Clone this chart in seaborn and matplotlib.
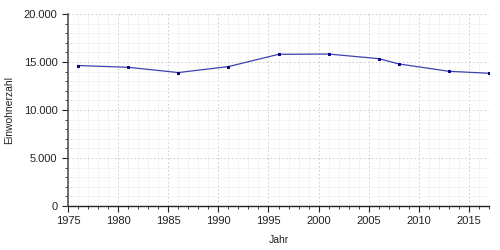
import matplotlib
matplotlib.use("Agg")
import matplotlib.pyplot as plt
import matplotlib.ticker as mticker
import seaborn as sns
import pandas as pd

years = [1976, 1981, 1986, 1991, 1996, 2001, 2006, 2008, 2013, 2017]
population = [14630, 14450, 13900, 14520, 15800, 15830, 15350, 14800, 14030, 13830]

df = pd.DataFrame({"Jahr": years, "Einwohnerzahl": population})

sns.set_style("white")
plt.rcParams['font.family'] = ['Liberation Sans', 'DejaVu Sans']

fig = plt.figure(figsize=(5, 2.5), dpi=100)
ax = fig.add_axes([0.136, 0.176, 0.842, 0.768])

sns.lineplot(data=df, x="Jahr", y="Einwohnerzahl", ax=ax, color="#4040b0",
             linewidth=0.9, marker="s", markersize=2.0,
             markerfacecolor="#000080", markeredgecolor="#000080")

ax.set_xlim(1975, 2017)
ax.set_ylim(0, 20000)
ax.xaxis.set_major_locator(mticker.MultipleLocator(5))
ax.xaxis.set_minor_locator(mticker.MultipleLocator(1))
ax.yaxis.set_major_locator(mticker.MultipleLocator(5000))
ax.yaxis.set_minor_locator(mticker.MultipleLocator(1000))
ax.yaxis.set_major_formatter(mticker.FuncFormatter(
    lambda v, p: f"{int(v):,}".replace(",", ".")))

ax.grid(which="major", color="#c8c8c8", linestyle=(0, (1.5, 2.5)), linewidth=0.7)
ax.grid(which="minor", color="#f0f0f0", linestyle="-", linewidth=0.5)
ax.set_axisbelow(True)

for s in ["top", "right"]:
    ax.spines[s].set_visible(False)
ax.spines["left"].set_color("#555555")
ax.spines["left"].set_linewidth(1.2)
ax.spines["bottom"].set_color("#222222")
ax.spines["bottom"].set_linewidth(1.0)

ax.tick_params(which="major", direction="out", length=4, width=0.8,
               labelsize=8, colors="#222222", bottom=True, left=True)
ax.tick_params(which="minor", direction="out", length=2.5, width=0.6,
               colors="#222222", bottom=True, left=True)

ax.set_xlabel("Jahr", fontsize=7.5, color="#222222", labelpad=6)
ax.set_ylabel("Einwohnerzahl", fontsize=7.5, color="#222222", labelpad=7)

fig.savefig("out.png", dpi=100)
